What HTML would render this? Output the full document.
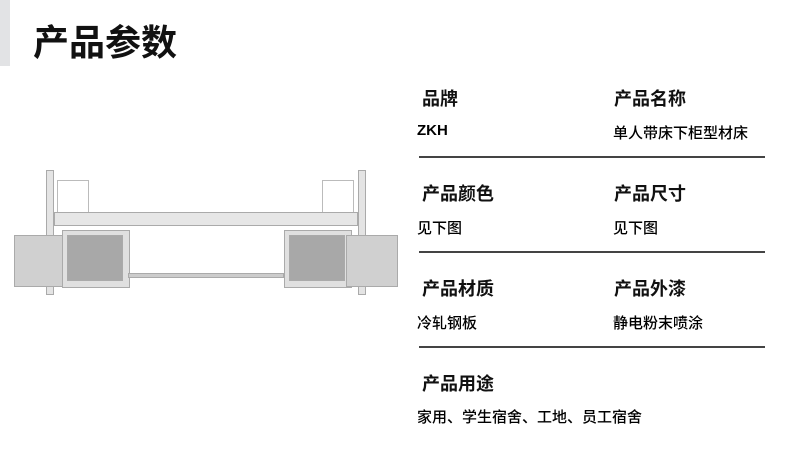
<!DOCTYPE html>
<html><head><meta charset="utf-8"><style>
body{margin:0;width:800px;height:453px;background:#fff;position:relative;overflow:hidden;font-family:"Liberation Sans","Noto Sans CJK SC",sans-serif;color:#111}
.a{position:absolute;white-space:nowrap}
.t{font-size:36px;font-weight:bold;left:33px;top:14px}
.l{font-size:18px;font-weight:bold}
.v{font-size:15px;font-weight:500;color:#000}
.hr{position:absolute;left:419px;width:346px;height:2px;background:#444}
.b{position:absolute;background:#d8d8d8;border:1px solid #aaa;box-sizing:border-box}
</style></head><body>
<div class="a" style="left:0;top:0;width:10px;height:66px;background:#e2e3e5"></div>
<div class="a t">产品参数</div>
<div class="a l" style="left:422px;top:85px">品牌</div>
<div class="a l" style="left:614px;top:85px">产品名称</div>
<div class="a v" style="left:417px;top:122px;font-weight:bold">ZKH</div>
<div class="a v" style="left:613px;top:122px">单人带床下柜型材床</div>
<div class="hr" style="top:156px"></div>
<div class="a l" style="left:422px;top:180px">产品颜色</div>
<div class="a l" style="left:614px;top:180px">产品尺寸</div>
<div class="a v" style="left:417px;top:217px">见下图</div>
<div class="a v" style="left:613px;top:217px">见下图</div>
<div class="hr" style="top:251px"></div>
<div class="a l" style="left:422px;top:275px">产品材质</div>
<div class="a l" style="left:614px;top:275px">产品外漆</div>
<div class="a v" style="left:417px;top:312px">冷轧钢板</div>
<div class="a v" style="left:613px;top:312px">静电粉末喷涂</div>
<div class="hr" style="top:346px"></div>
<div class="a l" style="left:422px;top:370px">产品用途</div>
<div class="a v" style="left:417px;top:406px">家用、学生宿舍、工地、员工宿舍</div>
<!-- bed -->
<div class="b" style="left:46px;top:170px;width:8px;height:125px;background:#e4e4e4"></div>
<div class="b" style="left:358px;top:170px;width:8px;height:125px;background:#e4e4e4"></div>
<div class="b" style="left:57px;top:180px;width:32px;height:34px;background:#fff;border-color:#bbb"></div>
<div class="b" style="left:322px;top:180px;width:32px;height:34px;background:#fff;border-color:#bbb"></div>
<div class="b" style="left:54px;top:212px;width:304px;height:14px;background:#e6e6e6"></div>
<div class="b" style="left:14px;top:235px;width:52px;height:52px;background:#d0d0d0"></div>
<div class="b" style="left:62px;top:230px;width:68px;height:58px;background:#e0e0e0"></div>
<div class="b" style="left:67px;top:235px;width:56px;height:46px;background:#a8a8a8"></div>
<div class="b" style="left:284px;top:230px;width:68px;height:58px;background:#e0e0e0"></div>
<div class="b" style="left:289px;top:235px;width:56px;height:46px;background:#a8a8a8"></div>
<div class="b" style="left:346px;top:235px;width:52px;height:52px;background:#d0d0d0"></div>
<div class="b" style="left:128px;top:273px;width:156px;height:5px;background:#ccc"></div>
</body></html>
